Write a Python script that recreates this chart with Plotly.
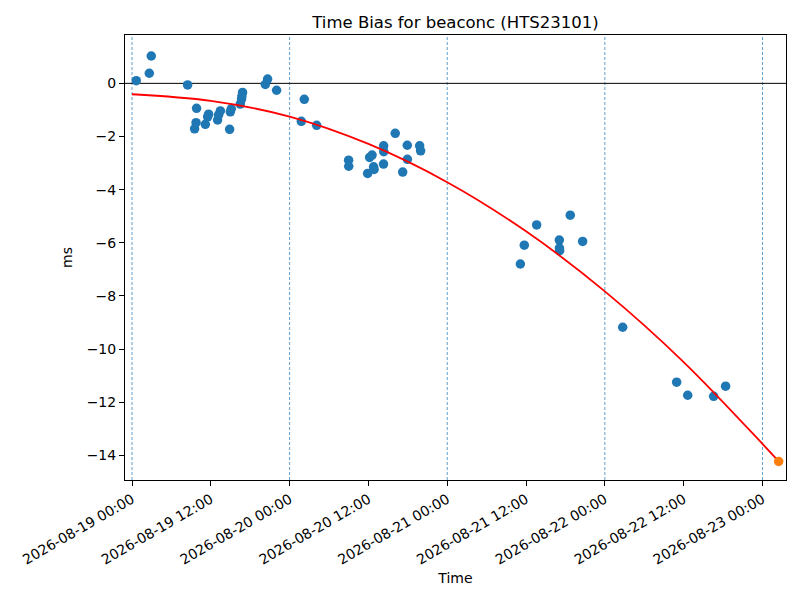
import plotly.graph_objects as go

# measured time bias samples (ms)
times = [
    "2026-08-19 00:39", "2026-08-19 02:38", "2026-08-19 02:56", "2026-08-19 08:28",
    "2026-08-19 09:50", "2026-08-19 09:32", "2026-08-19 09:45", "2026-08-19 11:10",
    "2026-08-19 11:31", "2026-08-19 11:40", "2026-08-19 13:02", "2026-08-19 13:11",
    "2026-08-19 13:27", "2026-08-19 14:52", "2026-08-19 14:58", "2026-08-19 15:07",
    "2026-08-19 16:29", "2026-08-19 16:41", "2026-08-19 16:44", "2026-08-19 16:50",
    "2026-08-19 20:18", "2026-08-19 20:39", "2026-08-19 22:01",
    "2026-08-20 02:14", "2026-08-20 01:47", "2026-08-20 04:07", "2026-08-20 08:59",
    "2026-08-20 09:00", "2026-08-20 11:53", "2026-08-20 12:11", "2026-08-20 12:33",
    "2026-08-20 12:47", "2026-08-20 12:52", "2026-08-20 14:19", "2026-08-20 14:20",
    "2026-08-20 14:18", "2026-08-20 16:05", "2026-08-20 17:13", "2026-08-20 17:55",
    "2026-08-20 17:56", "2026-08-20 19:48", "2026-08-20 19:57",
    "2026-08-21 11:08", "2026-08-21 11:44", "2026-08-21 13:37", "2026-08-21 17:04",
    "2026-08-21 17:07", "2026-08-21 17:05", "2026-08-21 18:44", "2026-08-21 20:37",
    "2026-08-22 02:43", "2026-08-22 10:56", "2026-08-22 12:37", "2026-08-22 16:34",
    "2026-08-22 18:23",
]
bias = [
    0.10, 0.38, 1.03, -0.06,
    -0.94, -1.71, -1.48, -1.54,
    -1.26, -1.16, -1.38, -1.19,
    -1.04, -1.73, -1.07, -0.96,
    -0.78, -0.59, -0.48, -0.34,
    -0.04, 0.16, -0.26,
    -0.60, -1.43, -1.58, -2.89,
    -3.12, -3.39, -2.79, -2.70,
    -3.14, -3.24, -2.35, -2.57,
    -3.04, -1.88, -3.34, -2.33,
    -2.86, -2.35, -2.54,
    -6.80, -6.09, -5.33, -5.90,
    -6.30, -6.20, -4.96, -5.95,
    -9.18, -11.25, -11.74, -11.78,
    -11.40,
]

# fitted trend (red curve)
fit_times = [
    "2026-08-19 00:00", "2026-08-19 12:00", "2026-08-20 00:00", "2026-08-20 12:00",
    "2026-08-21 00:00", "2026-08-21 12:00", "2026-08-22 00:00", "2026-08-22 12:00",
    "2026-08-23 00:00", "2026-08-23 02:28",
]
fit_bias = [-0.41, -0.66, -1.25, -2.28, -3.72, -5.57, -7.83, -10.49, -13.57, -14.23]

# predicted point
pred_time = ["2026-08-23 02:28"]
pred_bias = [-14.23]

midnights = ["2026-08-19", "2026-08-20", "2026-08-21", "2026-08-22", "2026-08-23"]

fig = go.Figure()

fig.add_trace(go.Scatter(x=times, y=bias, mode="markers",
                         marker=dict(color="#1f77b4", size=9.5, line=dict(width=0))))
fig.add_trace(go.Scatter(x=fit_times, y=fit_bias, mode="lines",
                         line=dict(color="red", width=1.8, shape="spline", smoothing=1.0)))
fig.add_trace(go.Scatter(x=pred_time, y=pred_bias, mode="markers",
                         marker=dict(color="#ff7f0e", size=9.5, line=dict(width=0))))

for d in midnights:
    fig.add_vline(x=d, line=dict(color="#1f77b4", width=0.7, dash="3px,2px"), layer="below")
fig.add_hline(y=0, line=dict(color="black", width=1), layer="below")

# page body has an 8px margin, so the figure is a bit smaller than the window
fig.update_layout(
    width=784, height=584,
    margin=dict(l=117, r=6, t=27, b=112),
    plot_bgcolor="white", paper_bgcolor="white",
    showlegend=False,
    font=dict(family="DejaVu Sans", size=14, color="black"),
    title=dict(text="Time Bias for beaconc (HTS23101)", x=0.5, xref="paper",
               y=0.976, yref="container", yanchor="middle",
               font=dict(size=16.5)),
)
fig.update_xaxes(
    title=dict(text="Time", font=dict(size=14), standoff=6),
    type="date",
    range=["2026-08-18 22:56", "2026-08-23 03:35"],
    tick0="2026-08-19 00:00", dtick=43200000,
    tickformat="%Y-%m-%d %H:%M", tickangle=-30,
    ticks="outside", ticklen=5, tickcolor="black",
    showgrid=False, zeroline=False,
    showline=True, linecolor="black", linewidth=1, mirror=True,
)
fig.update_yaxes(
    title=dict(text="ms", font=dict(size=14), standoff=10),
    range=[-14.93, 1.82],
    tickvals=[0, -2, -4, -6, -8, -10, -12, -14],
    ticktext=["0", "−2", "−4", "−6", "−8", "−10", "−12", "−14"],
    ticks="outside", ticklen=5, tickcolor="black",
    showgrid=False, zeroline=False,
    showline=True, linecolor="black", linewidth=1, mirror=True,
)

fig.write_html("out.html")
